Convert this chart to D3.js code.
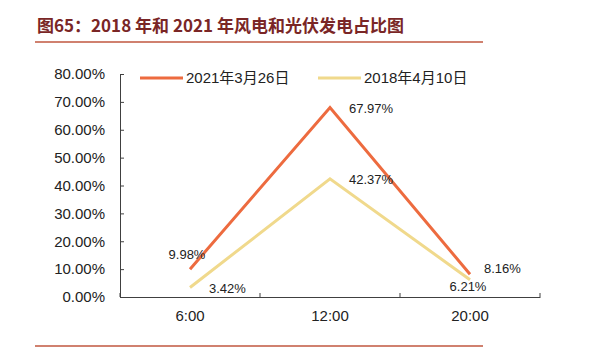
<!DOCTYPE html>
<html>
<head>
<meta charset="utf-8">
<script src="https://cdn.jsdelivr.net/npm/d3@7"></script>
<style>
body { margin: 0; background: #fff; }
svg { font-family: "Liberation Sans", Arial, "Noto Sans CJK SC", sans-serif; }
</style>
</head>
<body>
<svg width="600" height="361"></svg>
<script>
var categories = ["6:00", "12:00", "20:00"];
var series_names = ["2021年3月26日", "2018年4月10日"];
var series_2021 = [9.98, 67.97, 8.16];
var series_2018 = [3.42, 42.37, 6.21];
var y_ticks = [0, 10, 20, 30, 40, 50, 60, 70, 80];
var colors = ["#ed6b3f", "#f0d98c"];
// label offsets (dx, dy) per series per point, relative to the point
var label_offsets = [
    [[-3, -15], [19, 1], [14, -6]],
    [[19, 1], [19, 1], [-2, 7]]
];

var svg = d3.select("svg");

// title
svg.append("text")
    .attr("x", 37)
    .attr("y", 32)
    .attr("fill", "#7a2626")
    .attr("font-size", 17)
    .attr("font-weight", "bold")
    .attr("font-family", "'Noto Sans CJK SC', sans-serif")
    .text("图65：2018 年和 2021 年风电和光伏发电占比图");

svg.append("line")
    .attr("x1", 35).attr("x2", 483)
    .attr("y1", 42).attr("y2", 42)
    .attr("stroke", "#c0573f").attr("stroke-width", 1.5);

svg.append("line")
    .attr("x1", 35).attr("x2", 483)
    .attr("y1", 346).attr("y2", 346)
    .attr("stroke", "#c0573f").attr("stroke-width", 1.5);

var x = d3.scaleBand().domain(categories).range([120, 540]);
var y = d3.scaleLinear().domain([0, 80]).range([297, 74]);

// y axis, ticks pointing inward
var yAxis = svg.append("g")
    .attr("transform", "translate(120,0)")
    .call(d3.axisLeft(y).tickValues(y_ticks).tickSize(-4).tickPadding(15)
        .tickFormat(function(d){ return d.toFixed(2) + "%"; }));
yAxis.select(".domain").attr("stroke", "#404040");
yAxis.selectAll(".tick line").attr("stroke", "#404040");
yAxis.selectAll("text").attr("font-size", 15).attr("fill", "#222")
    .attr("font-family", "'Liberation Sans', Arial, sans-serif");

// x axis
var xAxis = svg.append("g")
    .attr("transform", "translate(0,297)")
    .call(d3.axisBottom(x).tickSize(0).tickPadding(13));
xAxis.select(".domain").attr("stroke", "#404040");
xAxis.selectAll("text").attr("font-size", 15).attr("fill", "#222")
    .attr("font-family", "'Liberation Sans', Arial, sans-serif");
// category boundary ticks
xAxis.selectAll(".bound")
    .data(categories.concat(["end"]))
    .enter().append("line")
    .attr("x1", function(d, i){ return i < categories.length ? x(d) : x(categories[categories.length-1]) + x.bandwidth(); })
    .attr("x2", function(d, i){ return i < categories.length ? x(d) : x(categories[categories.length-1]) + x.bandwidth(); })
    .attr("y1", 0).attr("y2", -4)
    .attr("stroke", "#404040");

var all_series = [series_2021, series_2018];

var line = d3.line()
    .x(function(d, i){ return x(categories[i]) + x.bandwidth()/2; })
    .y(function(d){ return y(d); });

all_series.forEach(function(s, si){
    svg.append("path")
        .datum(s)
        .attr("d", line)
        .attr("fill", "none")
        .attr("stroke", colors[si])
        .attr("stroke-width", 3);
});

all_series.forEach(function(s, si){
    svg.selectAll(".lab" + si)
        .data(s)
        .enter().append("text")
        .attr("x", function(d, i){ return x(categories[i]) + x.bandwidth()/2 + label_offsets[si][i][0]; })
        .attr("y", function(d, i){ return y(d) + label_offsets[si][i][1]; })
        .attr("font-size", 13)
        .attr("fill", "#222")
        .attr("dy", "0.35em")
        .attr("text-anchor", function(d, i){ return label_offsets[si][i][0] > 5 ? "start" : "middle"; })
        .text(function(d){ return d.toFixed(2) + "%"; });
});

// legend
var legend_x = [140, 318];
series_names.forEach(function(name, si){
    var g = svg.append("g").attr("transform", "translate(" + legend_x[si] + ",78)");
    g.append("line")
        .attr("x1", 0).attr("x2", 43)
        .attr("y1", 0).attr("y2", 0)
        .attr("stroke", colors[si]).attr("stroke-width", 3);
    g.append("text")
        .attr("x", 46).attr("y", 0).attr("dy", "0.35em")
        .attr("font-size", 15).attr("fill", "#222")
        .text(name);
});
</script>
</body>
</html>
